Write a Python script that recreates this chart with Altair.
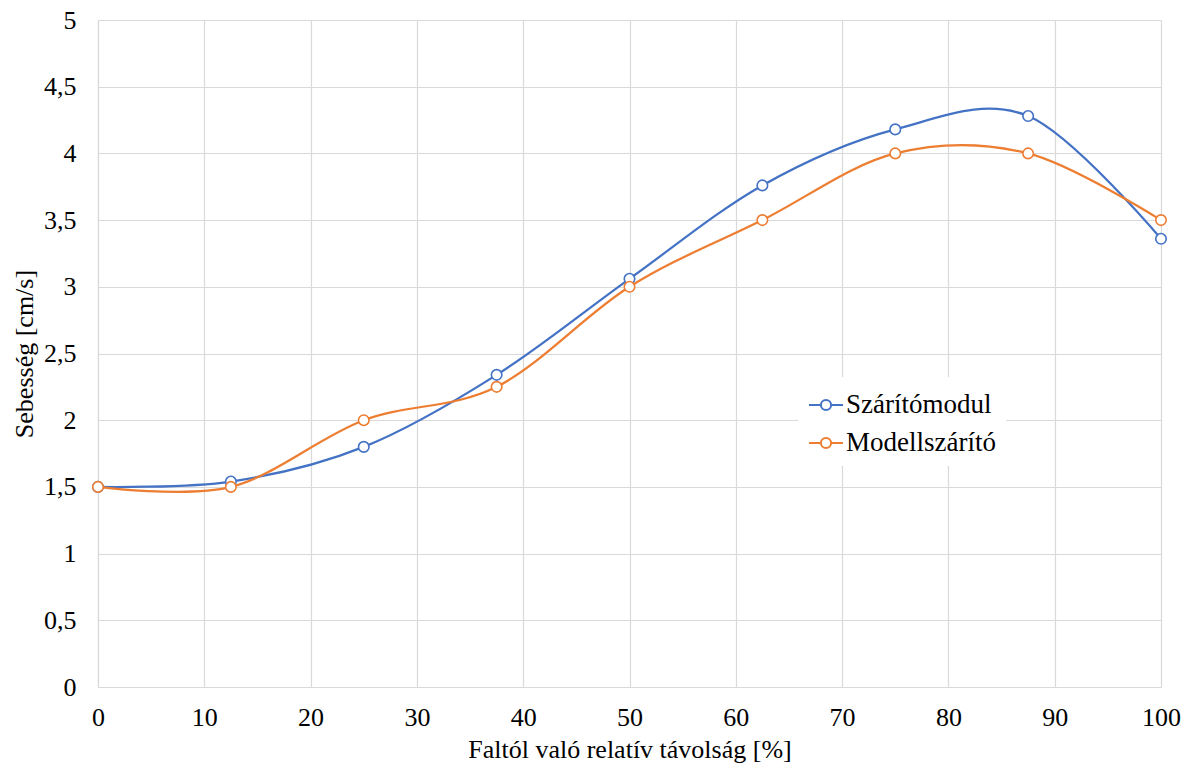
import altair as alt
import pandas as pd

# Relative distance from the wall [%] and measured velocities [cm/s]
distance = [0, 12.5, 25, 37.5, 50, 62.5, 75, 87.5, 100]
szaritomodul = [1.50, 1.54, 1.80, 2.34, 3.06, 3.76, 4.18, 4.28, 3.36]
modellszarito = [1.50, 1.50, 2.00, 2.25, 3.00, 3.50, 4.00, 4.00, 3.50]

series_names = ["Szárítómodul", "Modellszárító"]
series_colors = ["#4472C4", "#ED7D31"]

rows = []
for name, values in zip(series_names, [szaritomodul, modellszarito]):
    for d, v in zip(distance, values):
        rows.append({"tav": d, "seb": v, "sorozat": name, "rend": series_names.index(name)})
df = pd.DataFrame(rows)

FONT = "Liberation Serif"
FONT_SIZE = 26

# Legend symbol: short line with an open circle in the middle
legend_symbol = (
    "M-1,0 L-0.3,0 M0.3,0 L1,0 "
    "M-0.3,0 A0.3,0.3 0 1,0 0.3,0 A0.3,0.3 0 1,0 -0.3,0 Z"
)

x_enc = alt.X(
    "tav:Q",
    scale=alt.Scale(domain=[0, 100], nice=False),
    axis=alt.Axis(
        title="Faltól való relatív távolság [%]",
        values=list(range(0, 101, 10)),
        grid=True,
        ticks=False,
        labelFlush=False,
        labelOverlap=False,
        labelPadding=17,
        titlePadding=6,
    ),
)
y_enc = alt.Y(
    "seb:Q",
    scale=alt.Scale(domain=[0, 5], nice=False),
    axis=alt.Axis(
        title="Sebesség [cm/s]",
        values=[i * 0.5 for i in range(11)],
        grid=True,
        ticks=False,
        labelFlush=False,
        labelOverlap=False,
        labelPadding=22,
        titlePadding=6,
        labelExpr="replace(toString(datum.value), '.', ',')",
    ),
)
color_enc = alt.Color(
    "sorozat:N",
    scale=alt.Scale(domain=series_names, range=series_colors),
    sort=series_names,
    legend=alt.Legend(
        title=None,
        orient="none",
        legendX=700,
        legendY=357,
        fillColor="white",
        padding=10,
        symbolType=legend_symbol,
        symbolSize=1156,
        symbolStrokeWidth=2,
        symbolFillColor="white",
        labelFont=FONT,
        labelFontSize=27,
        labelColor="#000000",
        labelOffset=2,
        rowPadding=7,
    ),
)

base = alt.Chart(df)

lines = base.mark_line(
    interpolate="cardinal", tension=0, strokeWidth=2.25
).encode(x=x_enc, y=y_enc, color=color_enc, order="rend:O", detail="sorozat:N")

points = base.mark_point(
    filled=True, fill="white", size=110, strokeWidth=1.6, opacity=1
).encode(
    x="tav:Q",
    y="seb:Q",
    stroke=alt.Stroke("sorozat:N", scale=alt.Scale(domain=series_names, range=series_colors), legend=None),
)

layers = []
for name in series_names:
    layers.append(lines.transform_filter(alt.datum.sorozat == name))
    layers.append(points.transform_filter(alt.datum.sorozat == name))

chart = (
    alt.layer(*layers)
    .properties(
        width=1063,
        height=667,
        autosize=alt.AutoSizeParams(type="none"),
        padding={"left": 98, "top": 20, "right": 28, "bottom": 82},
        background="white",
    )
    .configure_view(stroke=None)
    .configure_axis(
        gridColor="#d9d9d9",
        gridWidth=1.2,
        domainColor="#d9d9d9",
        domainWidth=1.2,
        labelFont=FONT,
        labelFontSize=FONT_SIZE,
        labelColor="#000000",
        titleFont=FONT,
        titleFontSize=FONT_SIZE,
        titleFontWeight="normal",
        titleColor="#000000",
    )
)

chart.save("out.html", embed_options={"renderer": "svg", "actions": False})
